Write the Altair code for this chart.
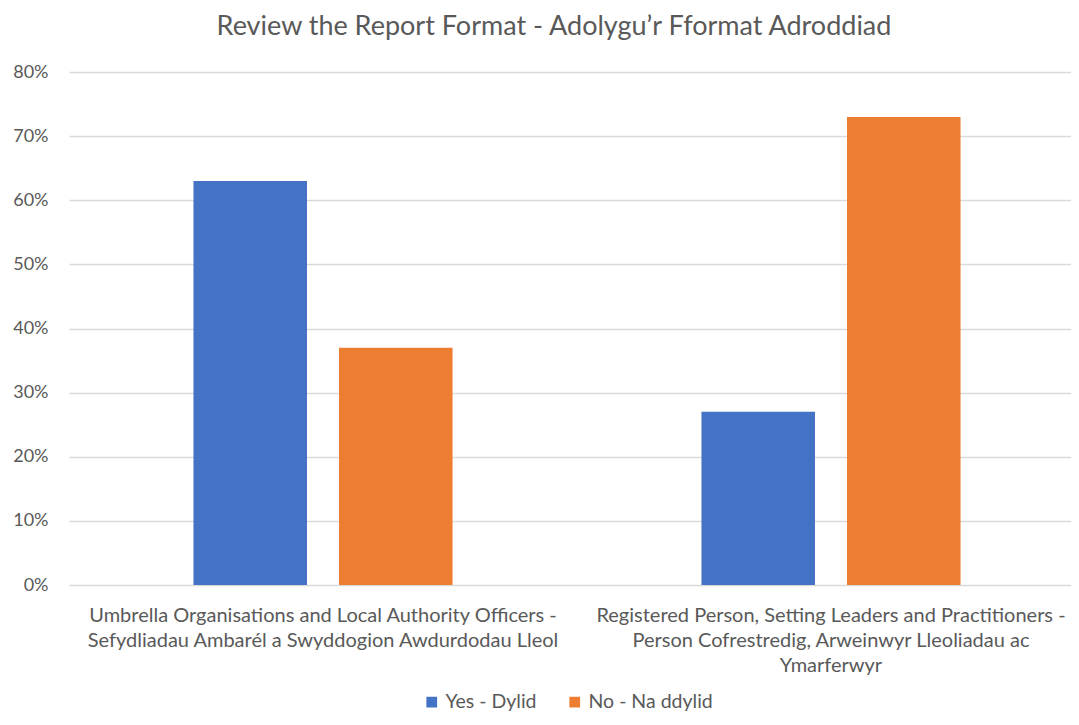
import altair as alt
import pandas as pd

title_text = "Review the Report Format - Adolygu\u2019r Fformat Adroddiad"

group_lines = [
    ["Umbrella Organisations and Local Authority Officers -",
     "Sefydliadau Ambar\u00e9l a Swyddogion Awdurdodau Lleol"],
    ["Registered Person, Setting Leaders and Practitioners -",
     "Person Cofrestredig, Arweinwyr Lleoliadau ac",
     "Ymarferwyr"],
]
groups = ["|".join(lines) for lines in group_lines]

answers = ["Yes - Dylid", "No - Na ddylid"]
colors = ["#4472C4", "#ED7D31"]

yes_values = [0.63, 0.27]
no_values = [0.37, 0.73]

y_ticks = [0, 0.1, 0.2, 0.3, 0.4, 0.5, 0.6, 0.7, 0.8]

rows = []
for g, y, n in zip(groups, yes_values, no_values):
    rows.append({"group": g, "answer": answers[0], "value": y})
    rows.append({"group": g, "answer": answers[1], "value": n})
df = pd.DataFrame(rows)

FONT = "Lato"
GREY = "#595959"
GRID = "#d9d9d9"

chart = alt.Chart(df).mark_bar().encode(
    x=alt.X(
        "group:N",
        sort=groups,
        scale=alt.Scale(paddingInner=0.49, paddingOuter=0.245, range=[0, 1016]),
        axis=alt.Axis(
            title=None, labelAngle=0, labelExpr="split(datum.label, '|')",
            labelFont=FONT, labelFontSize=20, labelColor=GREY,
            labelLineHeight=25, labelPadding=20, labelLimit=700,
            ticks=False, domain=False,
        ),
    ),
    xOffset=alt.XOffset("answer:N", sort=answers, scale=alt.Scale(paddingInner=0.22)),
    y=alt.Y(
        "value:Q",
        scale=alt.Scale(domain=[0, 0.8], nice=False),
        axis=alt.Axis(
            title=None, format=".0%", values=y_ticks, domain=False, ticks=False,
            gridColor=GRID, gridWidth=1.5, labelFont=FONT, labelFontSize=18,
            labelColor=GREY, labelPadding=21,
        ),
    ),
    color=alt.Color(
        "answer:N", sort=answers,
        scale=alt.Scale(domain=answers, range=colors),
        legend=alt.Legend(
            orient="none", legendX=353, legendY=620,
            direction="horizontal", title=None,
            symbolType="square", symbolSize=115, symbolStrokeWidth=0,
            labelFont=FONT, labelFontSize=19.5, labelColor=GREY,
            columnPadding=28,
        ),
    ),
).properties(
    width=1002,
    height=513,
    title=alt.TitleParams(
        title_text, font=FONT, fontSize=27, fontWeight="normal",
        color=GREY, offset=22, anchor="middle", dx=-16,
    ),
    autosize=alt.AutoSizeParams(type="none"),
    padding={"left": 61, "top": 64, "right": 0, "bottom": 132},
).configure_view(stroke=None)

chart.save("out.html", embed_options={"renderer": "svg", "actions": False})
